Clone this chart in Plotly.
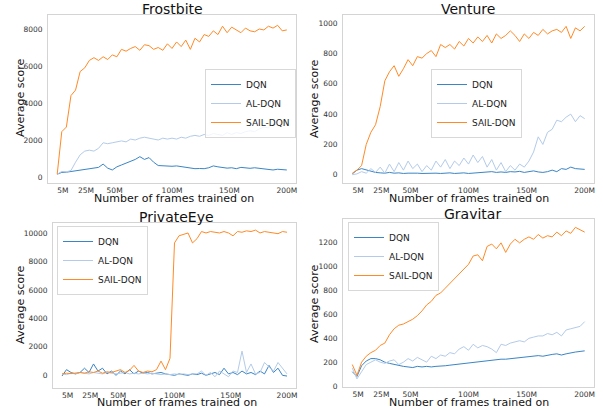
import plotly.graph_objects as go
from plotly.subplots import make_subplots

# frames trained on (millions)
frames = list(range(0, 201, 4))
tick_vals = [5, 25, 50, 100, 150, 200]
tick_text = ["5M", "25M", "50M", "100M", "150M", "200M"]
series_names = ["DQN", "AL-DQN", "SAIL-DQN"]

fb_dqn = [150, 250, 260, 300, 320, 380, 420, 480, 500, 520, 700, 480, 380, 550, 650, 750, 850, 950, 1100, 950,
          1050, 800, 620, 600, 600, 580, 600, 560, 550, 500, 450, 460, 450, 500, 600, 550, 500, 480, 500, 450,
          520, 480, 470, 500, 460, 450, 400, 380, 420, 390, 380]
fb_al = [150, 300, 280, 350, 800, 1200, 1400, 1450, 1400, 1550, 1850, 1800, 1850, 1900, 1950, 1900, 2050, 2000, 2100, 2150,
         2100, 2050, 2000, 2100, 2050, 2100, 2050, 2150, 2100, 2200, 2250, 2200, 2300, 2250, 2350, 2300, 2250, 2400, 2300, 2400,
         2350, 2450, 2500, 2450, 2600, 2700, 2650, 2900, 2800, 2750, 2850]
fb_sail = [150, 2450, 2700, 4400, 4700, 5700, 5900, 6300, 6450, 6300, 6500, 6350, 6600, 6500, 6900, 6800, 6950, 7050, 6850, 7150,
           7100, 6900, 7000, 6850, 7200, 6950, 7300, 7050, 7400, 6900, 7500, 7300, 7700, 7600, 7900, 7700, 8150, 7800, 8100, 7950,
           7800, 8050, 7900, 7850, 8000, 7950, 8150, 8050, 8200, 7900, 7950]

vn_dqn = [5, 30, 40, 30, 20, 15, 12, 10, 15, 10, 12, 8, 10, 12, 10, 8, 10, 12, 10, 8,
          10, 12, 8, 10, 12, 8, 10, 15, 12, 15, 20, 15, 18, 15, 20, 18, 22, 15, 20, 25,
          18, 15, 20, 30, 20, 40, 35, 50, 40, 35, 35]
vn_al = [0, 5, 20, 10, 40, 15, 50, 10, 70, 20, 80, 30, 90, 40, 70, 20, 60, 30, 90, 50,
         100, 40, 90, 60, 110, 70, 130, 80, 120, 50, 100, 30, 80, 20, 60, 30, 70, 50, 90, 150,
         250, 200, 280, 300, 360, 350, 380, 400, 350, 390, 370]
vn_sail = [10, 30, 60, 200, 280, 330, 450, 620, 680, 720, 650, 700, 760, 720, 780, 770, 800, 820, 780, 860,
           840, 860, 830, 880, 850, 900, 870, 910, 880, 920, 870, 930, 900, 920, 950, 920, 880, 930, 900, 940,
           920, 960, 930, 950, 960, 940, 980, 900, 970, 950, 980]

pe_dqn = [-50, 400, 200, 100, 200, 500, 200, 800, 300, 500, 100, 300, 0, 300, 100, 400, 100, 300, 150, 200,
          100, 150, 200, 100, 50, 0, 100, 50, 0, 100, 50, 150, 0, 100, 200, 50, 500, 100, 200, 50,
          300, 100, 200, 50, 300, 100, 700, 200, 500, 0, -50]
pe_al = [100, 50, 150, 100, 200, 150, 100, 200, 150, 100, 200, 150, 100, 150, 200, 100, 150, 100, 150, 100,
         150, 100, 50, 100, 50, 100, 50, 100, 50, 100, 100, 300, 0, 200, -100, 300, 100, -100, 300, 200,
         1700, 200, 800, 100, 200, 900, 600, 300, 900, 500, 100]
pe_sail = [100, 150, 120, 150, 200, 150, 250, 200, 300, 150, 250, 200, 300, 400, 200, 350, 700, 300, 200, 300,
           250, 400, 1000, 400, 1200, 9300, 9800, 9900, 10000, 9300, 9600, 10100, 10000, 10100, 10050, 10000, 10100, 10000, 9800, 10100,
           10050, 10150, 10100, 10200, 10000, 10100, 10050, 10000, 9950, 10100, 10050]

gr_dqn = [120, 80, 170, 210, 230, 230, 220, 200, 190, 180, 170, 165, 160, 155, 165, 160, 165, 160, 165, 165,
          170, 175, 180, 185, 190, 195, 200, 205, 205, 210, 215, 220, 225, 225, 230, 235, 240, 245, 245, 250,
          255, 250, 260, 265, 270, 260, 270, 280, 285, 290, 295]
gr_al = [150, 60, 120, 180, 200, 220, 200, 190, 210, 220, 180, 200, 230, 210, 240, 220, 200, 250, 230, 260,
         250, 280, 270, 310, 330, 300, 350, 320, 340, 330, 310, 280, 350, 340, 360, 370, 380, 370, 400, 410,
         420, 420, 440, 430, 450, 420, 470, 480, 490, 500, 540]
gr_sail = [180, 90, 200, 250, 280, 300, 340, 360, 430, 480, 510, 520, 540, 560, 590, 630, 680, 710, 760, 780,
           820, 860, 900, 940, 980, 1020, 1090, 1100, 1050, 1170, 1190, 1150, 1200, 1120, 1190, 1230, 1200, 1230, 1250, 1230,
           1270, 1240, 1260, 1250, 1290, 1260, 1300, 1280, 1330, 1310, 1290]

games = ["Frostbite", "Venture", "PrivateEye", "Gravitar"]
scores = [
    [fb_dqn, fb_al, fb_sail],
    [vn_dqn, vn_al, vn_sail],
    [pe_dqn, pe_al, pe_sail],
    [gr_dqn, gr_al, gr_sail],
]
y_ticks = [
    [0, 2000, 4000, 6000, 8000],
    [0, 200, 400, 600, 800, 1000],
    [0, 2000, 4000, 6000, 8000, 10000],
    [0, 200, 400, 600, 800, 1000, 1200],
]
y_ranges = [[-324, 8757], [-55, 1055], [-890, 10700], [-8, 1400]]
colors = ["#3a85c5", "#b3cbe9", "#ff8a26"]

W, H = 603, 408
# plot boxes in pixels: left, right, top, bottom
boxes = [(48, 296, 15, 183), (343, 594, 15, 183), (53, 296, 223, 388), (343, 594, 219, 387)]
title_pos = [(172, 9), (468, 9), (176, 217), (472, 214)]
xlab_pos = [(174, 198), (469, 198), (177, 402), (469, 402)]
ylab_pos = [(20, 98), (314, 99), (20, 305), (314, 304)]
legend_pos = [(296, 69, "right"), (431, 69, "left"), (57, 226, "left"), (348, 222, "left")]

font = "DejaVu Sans"
fig = make_subplots(rows=2, cols=2)

for i in range(4):
    r, c = i // 2 + 1, i % 2 + 1
    leg = "legend" if i == 0 else "legend%d" % (i + 1)
    for j in range(3):
        fig.add_trace(go.Scatter(x=frames, y=scores[i][j], mode="lines", name=series_names[j],
                                 line=dict(color=colors[j], width=1), legend=leg), row=r, col=c)
    l, rt, t, b = boxes[i]
    ax = "" if i == 0 else str(i + 1)
    fig.layout["xaxis" + ax].update(domain=[l / W, rt / W], range=[-8, 208], tickvals=tick_vals, ticktext=tick_text,
                                    showgrid=False, zeroline=False, showline=True, mirror=True, linecolor="#d4d4d4",
                                    linewidth=1, ticks="", ticklabelstandoff=0, automargin=False,
                                    tickfont=dict(family=font, size=7.5, color="#333"))
    fig.layout["yaxis" + ax].update(domain=[1 - b / H, 1 - t / H], range=y_ranges[i], tickvals=y_ticks[i],
                                    tickformat="d", showgrid=False, zeroline=False, showline=True, mirror=True,
                                    linecolor="#d4d4d4", linewidth=1, ticks="", ticklabelstandoff=3, automargin=False,
                                    tickfont=dict(family=font, size=7.5, color="#333"))
    lx, ly, anchor = legend_pos[i]
    fig.layout[leg] = dict(x=lx / W, y=1 - ly / H, xanchor=anchor, yanchor="top", bgcolor="rgba(255,255,255,0.8)",
                           bordercolor="#d8d8d8", borderwidth=1, font=dict(family=font, size=9, color="#222"),
                           itemwidth=30, tracegroupgap=0)
    tx, ty = title_pos[i]
    fig.add_annotation(x=tx / W, y=1 - ty / H, xref="paper", yref="paper", text=games[i], showarrow=False,
                       font=dict(family=font, size=14, color="#111"), xanchor="center", yanchor="middle")
    tx, ty = xlab_pos[i]
    fig.add_annotation(x=tx / W, y=1 - ty / H, xref="paper", yref="paper", text="Number of frames trained on",
                       showarrow=False, font=dict(family=font, size=11, color="#111"), xanchor="center", yanchor="middle")
    tx, ty = ylab_pos[i]
    fig.add_annotation(x=tx / W, y=1 - ty / H, xref="paper", yref="paper", text="Average score", textangle=-90,
                       showarrow=False, font=dict(family=font, size=11, color="#111"), xanchor="center", yanchor="middle")

fig.update_layout(width=W, height=H, margin=dict(l=0, r=0, t=0, b=0), plot_bgcolor="white", paper_bgcolor="white",
                  showlegend=True)
# drop the browser's default 8px body margin so the page lines up with the window
fig.write_html("out.html", config={"displayModeBar": False}, post_script="document.body.style.margin='0';")
